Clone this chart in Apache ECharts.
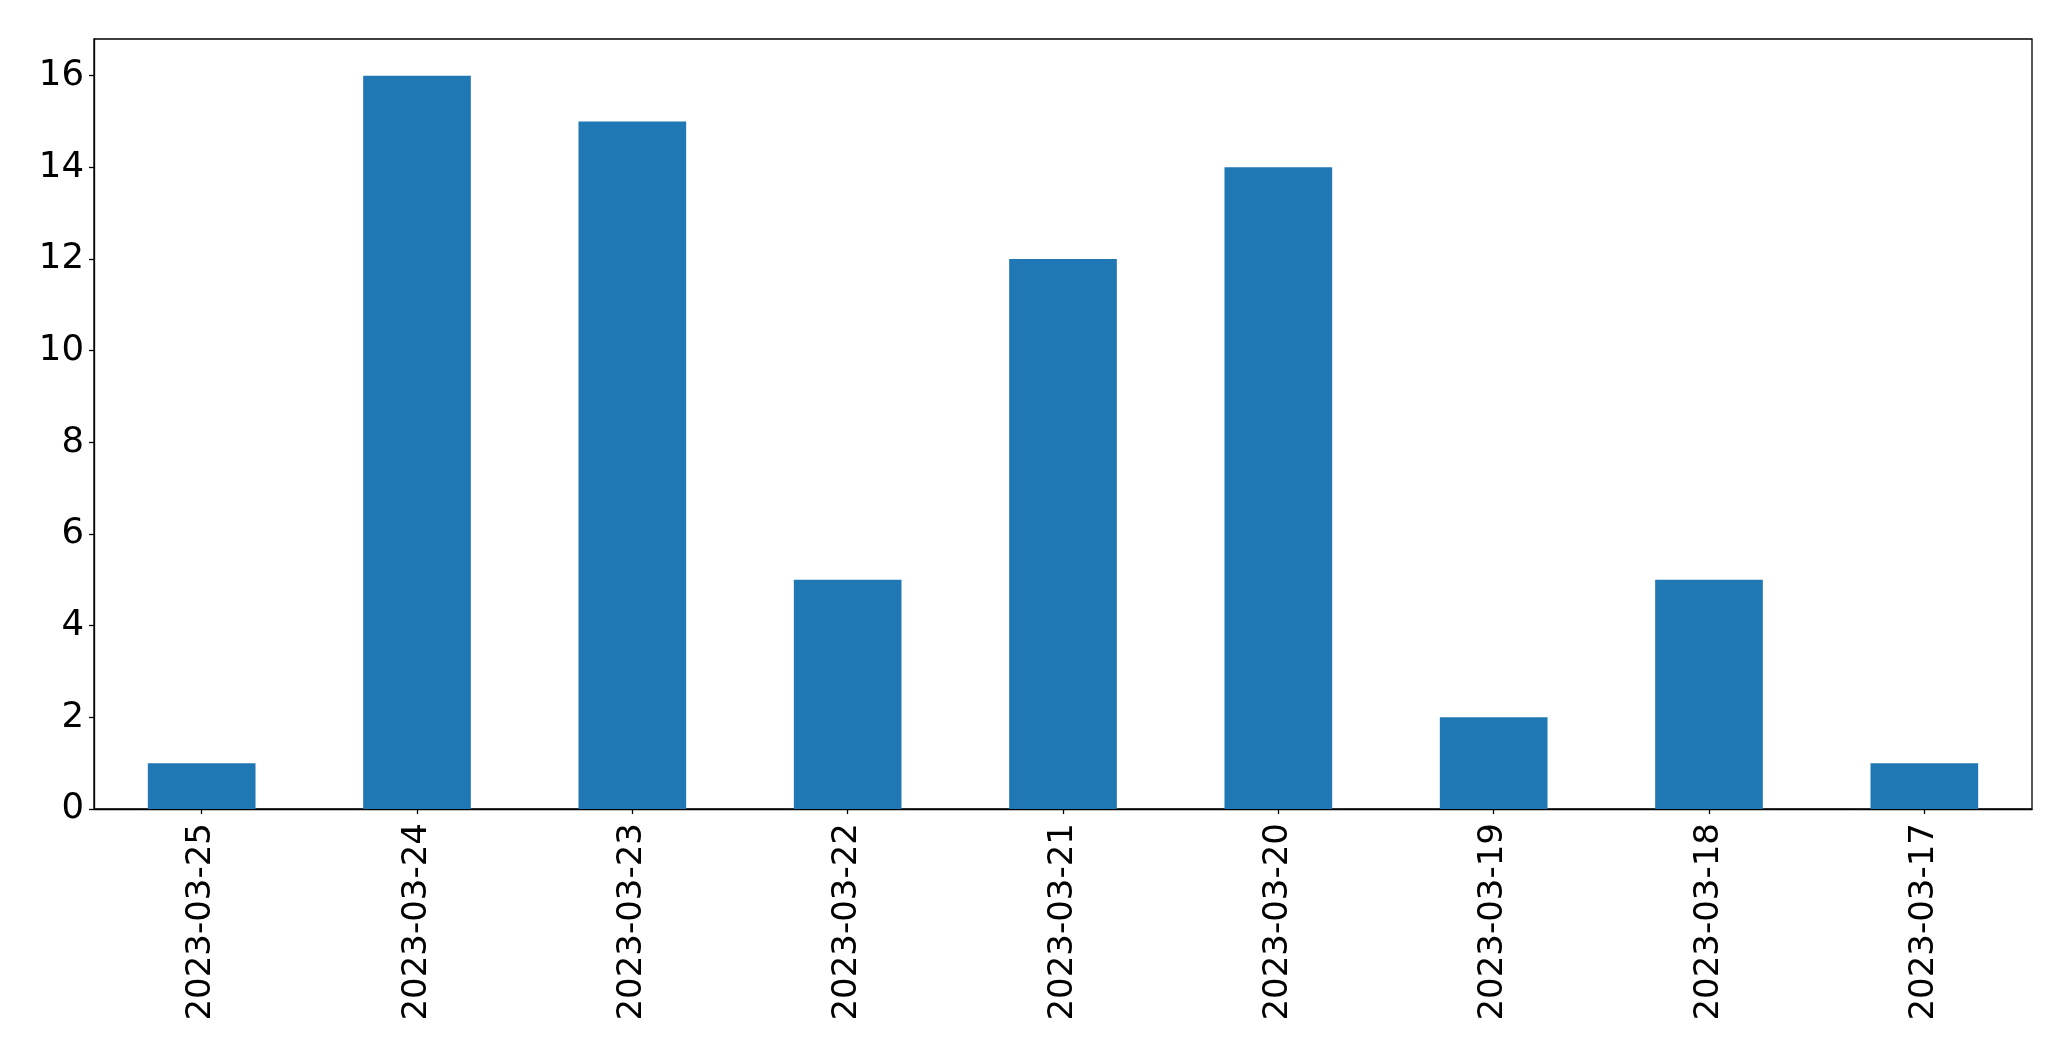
<!DOCTYPE html>
<html>
<head>
<meta charset="utf-8">
<script src="https://cdn.jsdelivr.net/npm/echarts@6/dist/echarts.min.js"></script>
<style>html,body{margin:0;padding:0;background:#fff;}#c{width:2071px;height:1061px;}</style>
</head>
<body>
<div id="c"></div>
<script>
const categories = ['2023-03-25','2023-03-24','2023-03-23','2023-03-22','2023-03-21','2023-03-20','2023-03-19','2023-03-18','2023-03-17'];
const values = [1,16,15,5,12,14,2,5,1];
const yTicks = [0,2,4,6,8,10,12,14,16];
const yMax = 16.8;

const chart = echarts.init(document.getElementById('c'), null, {renderer:'canvas'});
const font = 'DejaVu Sans';
chart.setOption({
  animation:false,
  backgroundColor:'#ffffff',
  grid:{left:94, top:39, right:39, bottom:252, show:true, borderColor:'#000', borderWidth:1.3, backgroundColor:'transparent'},
  xAxis:{
    type:'category', data:categories, boundaryGap:true,
    axisLine:{show:true, lineStyle:{color:'#000', width:1.3}},
    axisTick:{show:true, alignWithLabel:true, length:5, lineStyle:{color:'#000', width:1.3}},
    axisLabel:{rotate:90, margin:14, color:'#000', fontFamily:font, fontSize:34},
    splitLine:{show:false}
  },
  yAxis:{
    type:'value', min:0, max:yMax, interval:2,
    axisLine:{show:true, lineStyle:{color:'#000', width:1.3}},
    axisTick:{show:true, length:5, customValues:yTicks, lineStyle:{color:'#000', width:1.3}},
    axisLabel:{customValues:yTicks, margin:10, color:'#000', fontFamily:font, fontSize:35.5},
    splitLine:{show:false}
  },
  series:[{
    type:'bar', data:values, barWidth:'50%',
    itemStyle:{color:'#1f77b4'}
  }]
});
</script>
</body>
</html>
